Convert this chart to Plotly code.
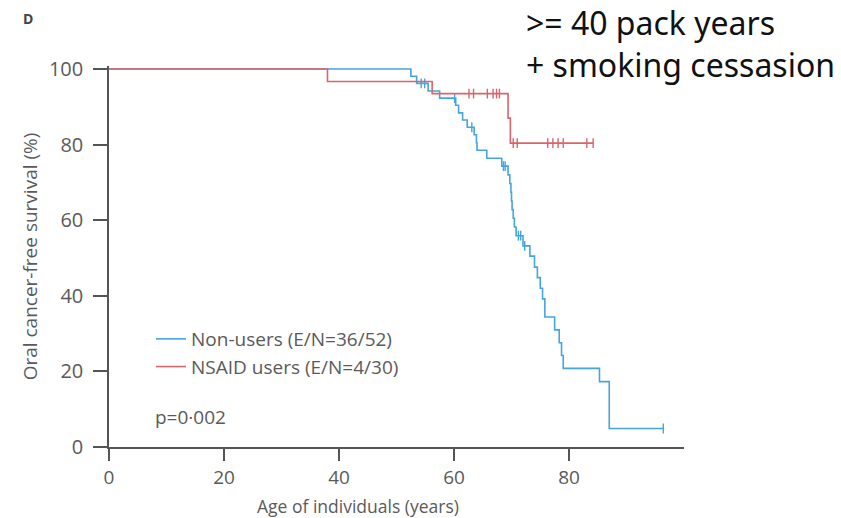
import plotly.graph_objects as go

# Kaplan-Meier step data: ages (years) at which events occur and survival (%) after each event
nonuser_event_age = [52.5, 53.5, 55.5, 57.5, 60.3, 60.8, 61.5, 62.3, 63.5, 63.9, 64.0, 65.7,
                     68.3, 69.4, 69.7, 69.9, 70.0, 70.1, 70.3, 70.5, 70.8, 72.0, 73.2, 74.0,
                     74.5, 75.0, 75.4, 75.8, 77.5, 78.3, 78.7, 79.0, 85.3, 87.0]
nonuser_surv = [98.1, 96.2, 94.2, 92.3, 90.4, 88.4, 86.5, 84.6, 82.6, 80.5, 78.5, 76.4,
                74.3, 72.0, 69.7, 67.4, 65.1, 62.8, 60.5, 58.2, 55.9, 53.2, 50.5, 47.6,
                44.8, 42.0, 39.2, 34.4, 31.0, 27.6, 24.2, 20.8, 17.3, 4.9]
nonuser_censor_age = [54.3, 54.9, 60.1, 63.1, 68.6, 68.9, 71.2, 71.6, 72.3, 96.4]
nonuser_censor_surv = [96.2, 96.2, 92.3, 84.6, 74.3, 74.3, 55.9, 55.9, 53.2, 4.9]

nsaid_event_age = [38.0, 56.2, 69.4, 69.8]
nsaid_surv = [96.7, 93.5, 87.0, 80.4]
nsaid_censor_age = [62.6, 63.4, 65.8, 66.8, 67.4, 67.9, 70.3, 71.0, 76.3, 77.2, 78.1, 79.0, 83.1, 84.2]
nsaid_censor_surv = [93.5] * 6 + [80.4] * 8

labels = ["Non-users (E/N=36/52)", "NSAID users (E/N=4/30)"]
colors = ["#45a5de", "#d9646d"]
x_ticks = [0, 20, 40, 60, 80]
y_ticks = [0, 20, 40, 60, 80, 100]


def step_xy(event_age, surv, censor_age):
    xs = [0] + list(event_age)
    ys = [100] + list(surv)
    end = max(list(event_age) + list(censor_age))
    xs.append(end)
    ys.append(ys[-1])
    return xs, ys


fig = go.Figure()
series = [
    (nonuser_event_age, nonuser_surv, nonuser_censor_age, nonuser_censor_surv),
    (nsaid_event_age, nsaid_surv, nsaid_censor_age, nsaid_censor_surv),
]
for (ev, sv, ca, cs), name, col in zip(series, labels, colors):
    xs, ys = step_xy(ev, sv, ca)
    fig.add_trace(go.Scatter(x=xs, y=ys, mode="lines", line=dict(color=col, width=1.6, shape="hv"),
                             name=name, showlegend=True))
    fig.add_trace(go.Scatter(x=ca, y=cs, mode="markers",
                             marker=dict(symbol="line-ns", size=7, line=dict(color=col, width=1.4)),
                             showlegend=False, hoverinfo="skip"))

axis_col = "#555555"
text_col = "#5a5a5a"

# plot area spans x pixels 109..684 and y pixels 66..447
L, R, T, B = 109, 684, 66, 447


def px(x):
    return (x - L) / (R - L)


def py(y):
    return (B - y) / (B - T)


fig.update_layout(
    width=841, height=518,
    margin=dict(l=L, r=841 - R, t=T, b=518 - B),
    paper_bgcolor="white", plot_bgcolor="white",
    font=dict(family="Open Sans", size=18, color=text_col),
    showlegend=True,
    legend=dict(x=px(151), y=py(320), xanchor="left", yanchor="top", bgcolor="rgba(0,0,0,0)",
                font=dict(size=19, color=text_col), itemwidth=30, tracegroupgap=0),
    xaxis=dict(range=[0, 100], tickvals=x_ticks, showgrid=False, zeroline=False,
               showline=True, linecolor=axis_col, linewidth=1.5,
               ticks="outside", ticklen=12, tickwidth=1.5, tickcolor=axis_col,
               ticklabelstandoff=0,
               tickfont=dict(size=19, color=text_col)),
    yaxis=dict(range=[0, 100.8], tickvals=y_ticks, showgrid=False, zeroline=False,
               showline=True, linecolor=axis_col, linewidth=1.5,
               ticks="outside", ticklen=14, tickwidth=1.5, tickcolor=axis_col,
               ticklabelstandoff=6,
               tickfont=dict(size=20, color=text_col),
               title=dict(text="Oral cancer-free survival (%)", font=dict(size=19, color=text_col), standoff=6)),
)

fig.add_annotation(text="Age of individuals (years)", x=px(358), y=py(506), xref="paper", yref="paper",
                   xanchor="center", yanchor="middle", showarrow=False,
                   font=dict(size=17.5, color=text_col))
fig.add_annotation(text="p=0·002", x=px(153), y=py(417), xref="paper", yref="paper",
                   xanchor="left", yanchor="middle", showarrow=False,
                   font=dict(size=19, color=text_col))
fig.add_annotation(text="<b>D</b>", x=px(28), y=py(18), xref="paper", yref="paper",
                   xanchor="center", yanchor="middle", showarrow=False,
                   font=dict(size=14, color="#444444"))
fig.add_annotation(text=">= 40 pack years<br>+ smoking cessasion", x=px(524),
                   y=py(-1), xref="paper", yref="paper", xanchor="left", yanchor="top",
                   align="left", showarrow=False,
                   font=dict(family="Noto Sans", size=32, color="#111111"))

fig.write_html("out.html")
